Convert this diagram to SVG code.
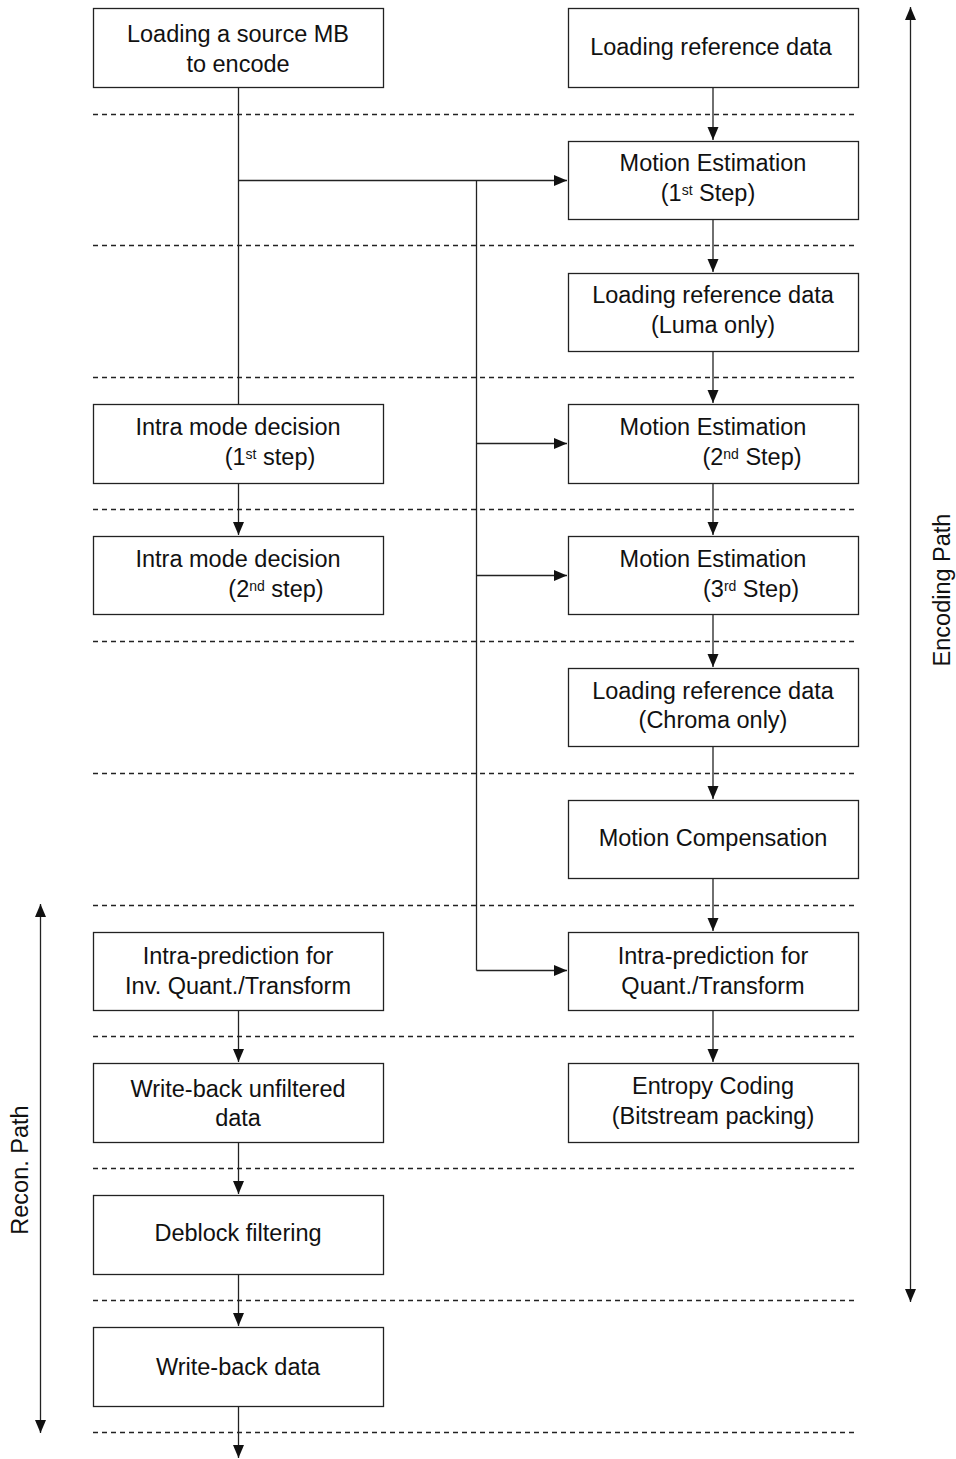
<svg xmlns="http://www.w3.org/2000/svg" width="956" height="1459" viewBox="0 0 956 1459">
<style>
.box{fill:#fff;stroke:#222;stroke-width:1.3}
.t{font-family:"Liberation Sans",Arial,sans-serif;font-size:23.5px;fill:#111;text-anchor:middle}
.sup{font-size:14px}
.dash{stroke:#222;stroke-width:1.3;stroke-dasharray:5 4;fill:none}
.ln{stroke:#222;stroke-width:1.3;fill:none}
.ar{marker-end:url(#ah)}
.dbl{marker-end:url(#ah);marker-start:url(#ah2)}
</style>
<defs>
<marker id="ah" markerUnits="userSpaceOnUse" markerWidth="14" markerHeight="12" refX="13" refY="5.5" orient="auto"><path d="M0,0 L13,5.5 L0,11 z" fill="#111"/></marker>
<marker id="ah2" markerUnits="userSpaceOnUse" markerWidth="14" markerHeight="12" refX="13" refY="5.5" orient="auto-start-reverse"><path d="M0,0 L13,5.5 L0,11 z" fill="#111"/></marker>
</defs>
<rect width="956" height="1459" fill="#fff"/>
<g id="separators">
<line class="dash" x1="93" y1="114.5" x2="858" y2="114.5"/>
<line class="dash" x1="93" y1="245.5" x2="858" y2="245.5"/>
<line class="dash" x1="93" y1="377.5" x2="858" y2="377.5"/>
<line class="dash" x1="93" y1="509.5" x2="858" y2="509.5"/>
<line class="dash" x1="93" y1="641.5" x2="858" y2="641.5"/>
<line class="dash" x1="93" y1="773.5" x2="858" y2="773.5"/>
<line class="dash" x1="93" y1="905.5" x2="858" y2="905.5"/>
<line class="dash" x1="93" y1="1036.5" x2="858" y2="1036.5"/>
<line class="dash" x1="93" y1="1168.5" x2="858" y2="1168.5"/>
<line class="dash" x1="93" y1="1300.5" x2="858" y2="1300.5"/>
<line class="dash" x1="93" y1="1432.5" x2="858" y2="1432.5"/>
</g>
<g id="connectors">
<line class="ln" x1="238.5" y1="87" x2="238.5" y2="404"/>
<line class="ln ar" x1="238.5" y1="180.5" x2="567" y2="180.5"/>
<line class="ln" x1="476.5" y1="180.5" x2="476.5" y2="970.5"/>
<line class="ln ar" x1="476.5" y1="443.5" x2="567" y2="443.5"/>
<line class="ln ar" x1="476.5" y1="575.5" x2="567" y2="575.5"/>
<line class="ln ar" x1="476.5" y1="970.5" x2="567" y2="970.5"/>
<line class="ln ar" x1="713" y1="87" x2="713" y2="140"/>
<line class="ln ar" x1="713" y1="219" x2="713" y2="272"/>
<line class="ln ar" x1="713" y1="351" x2="713" y2="403"/>
<line class="ln ar" x1="713" y1="483" x2="713" y2="535"/>
<line class="ln ar" x1="713" y1="614" x2="713" y2="667"/>
<line class="ln ar" x1="713" y1="746" x2="713" y2="799"/>
<line class="ln ar" x1="713" y1="878" x2="713" y2="931"/>
<line class="ln ar" x1="713" y1="1010" x2="713" y2="1062"/>
<line class="ln ar" x1="238.5" y1="483" x2="238.5" y2="535"/>
<line class="ln ar" x1="238.5" y1="1010" x2="238.5" y2="1062"/>
<line class="ln ar" x1="238.5" y1="1142" x2="238.5" y2="1194"/>
<line class="ln ar" x1="238.5" y1="1274" x2="238.5" y2="1326"/>
<line class="ln ar" x1="238.5" y1="1406" x2="238.5" y2="1458"/>
<line class="ln dbl" x1="910.5" y1="7" x2="910.5" y2="1302"/>
<line class="ln dbl" x1="40.5" y1="904" x2="40.5" y2="1433"/>
</g>
<g id="source-mb"><rect class="box" x="93.5" y="8.5" width="290" height="79"/><text class="t" x="238" y="42">Loading a source MB</text><text class="t" x="238" y="72">to encode</text></g>
<g id="load-ref"><rect class="box" x="568.5" y="8.5" width="290" height="79"/><text class="t" x="711" y="55">Loading reference data</text></g>
<g id="me1"><rect class="box" x="568.5" y="141.5" width="290" height="78"/><text class="t" x="713" y="171">Motion Estimation</text><text class="t" x="708" y="201">(1<tspan class="sup" dy="-6">st</tspan><tspan dy="6"> Step)</tspan></text></g>
<g id="load-luma"><rect class="box" x="568.5" y="273.5" width="290" height="78"/><text class="t" x="713" y="303">Loading reference data</text><text class="t" x="713" y="333">(Luma only)</text></g>
<g id="intra1"><rect class="box" x="93.5" y="404.5" width="290" height="79"/><text class="t" x="238" y="435">Intra mode decision</text><text class="t" x="270" y="465">(1<tspan class="sup" dy="-6">st</tspan><tspan dy="6"> step)</tspan></text></g>
<g id="me2"><rect class="box" x="568.5" y="404.5" width="290" height="79"/><text class="t" x="713" y="435">Motion Estimation</text><text class="t" x="752" y="465">(2<tspan class="sup" dy="-6">nd</tspan><tspan dy="6"> Step)</tspan></text></g>
<g id="intra2"><rect class="box" x="93.5" y="536.5" width="290" height="78"/><text class="t" x="238" y="567">Intra mode decision</text><text class="t" x="276" y="597">(2<tspan class="sup" dy="-6">nd</tspan><tspan dy="6"> step)</tspan></text></g>
<g id="me3"><rect class="box" x="568.5" y="536.5" width="290" height="78"/><text class="t" x="713" y="567">Motion Estimation</text><text class="t" x="751" y="597">(3<tspan class="sup" dy="-6">rd</tspan><tspan dy="6"> Step)</tspan></text></g>
<g id="load-chroma"><rect class="box" x="568.5" y="668.5" width="290" height="78"/><text class="t" x="713" y="699">Loading reference data</text><text class="t" x="713" y="728">(Chroma only)</text></g>
<g id="mc"><rect class="box" x="568.5" y="800.5" width="290" height="78"/><text class="t" x="713" y="846">Motion Compensation</text></g>
<g id="intra-inv"><rect class="box" x="93.5" y="932.5" width="290" height="78"/><text class="t" x="238" y="964">Intra-prediction for</text><text class="t" x="238" y="994">Inv. Quant./Transform</text></g>
<g id="intra-q"><rect class="box" x="568.5" y="932.5" width="290" height="78"/><text class="t" x="713" y="964">Intra-prediction for</text><text class="t" x="713" y="994">Quant./Transform</text></g>
<g id="wb-unf"><rect class="box" x="93.5" y="1063.5" width="290" height="79"/><text class="t" x="238" y="1097">Write-back unfiltered</text><text class="t" x="238" y="1126">data</text></g>
<g id="entropy"><rect class="box" x="568.5" y="1063.5" width="290" height="79"/><text class="t" x="713" y="1094">Entropy Coding</text><text class="t" x="713" y="1124">(Bitstream packing)</text></g>
<g id="deblock"><rect class="box" x="93.5" y="1195.5" width="290" height="79"/><text class="t" x="238" y="1241">Deblock filtering</text></g>
<g id="wb"><rect class="box" x="93.5" y="1327.5" width="290" height="79"/><text class="t" x="238" y="1375">Write-back data</text></g>
<g id="labels">
<text class="t" transform="translate(950,590) rotate(-90)">Encoding Path</text>
<text class="t" transform="translate(28,1170) rotate(-90)">Recon. Path</text>
</g>
</svg>
